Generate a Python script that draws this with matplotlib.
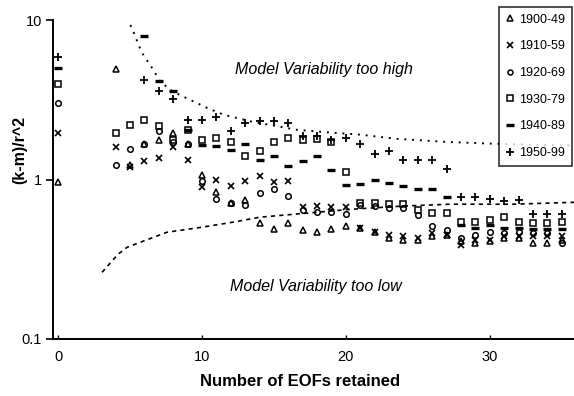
import numpy as np
import matplotlib
matplotlib.use("Agg")
import matplotlib.pyplot as plt

plt.rcParams['font.family'] = ['Liberation Sans', 'DejaVu Sans']

# EOFs retained (x positions of the columns of markers)
eofs = [0] + list(range(4, 36))

nan = np.nan
# ratio (k-m)/r^2 per period; one value per entry of `eofs`
p1900_49 = [0.97, 4.9, 1.24, 1.66, 1.78, 1.97, 1.66, 1.07, 0.84, 0.71, 0.74, 0.53, 0.49, 0.53,
            0.48, 0.47, 0.49, 0.51, 0.50, 0.47, 0.43, 0.42, 0.42, 0.44, 0.45, 0.41, 0.40, 0.41,
            0.43, 0.43, 0.40, 0.40, 0.42]
p1910_59 = [1.97, 1.6, 1.2, 1.3, 1.37, 1.6, 1.33, 0.9, 1.0, 0.91, 0.98, 1.05, 0.96, 0.98,
            0.67, 0.68, 0.67, 0.67, 0.50, 0.47, 0.45, 0.44, 0.43, 0.46, 0.45, 0.39, 0.42, 0.42,
            0.44, 0.44, 0.445, 0.445, 0.445]
p1920_69 = [3.02, 1.24, 1.56, 1.66, 2.0, 1.72, 1.68, 0.98, 0.75, 0.71, 0.69, 0.82, 0.87, 0.79,
            0.64, 0.63, 0.63, 0.61, 0.69, 0.68, 0.66, 0.66, 0.60, 0.51, 0.48, 0.43, 0.45, 0.47,
            0.46, 0.47, 0.46, 0.46, 0.40]
p1930_79 = [3.98, 1.97, 2.21, 2.37, 2.15, 1.78, 2.05, 1.78, 1.82, 1.71, 1.40, 1.51, 1.71, 1.82,
            1.78, 1.80, 1.71, 1.11, 0.71, 0.71, 0.70, 0.70, 0.64, 0.62, 0.62, 0.54, 0.54, 0.56,
            0.58, 0.54, 0.53, 0.53, 0.54]
p1940_89 = [5.0, nan, nan, 7.9, 4.15, 3.6, 2.05, 1.65, 1.63, 1.53, 1.66, 1.33, 1.40, 1.22,
            1.30, 1.40, 1.14, 0.93, 0.94, 0.99, 0.95, 0.91, 0.87, 0.87, 0.78, 0.52, 0.50, 0.52,
            0.50, 0.50, 0.49, 0.49, 0.49]
p1950_99 = [5.87, nan, nan, 4.2, 3.6, 3.2, 2.35, 2.35, 2.45, 2.0, 2.26, 2.34, 2.34, 2.26,
            1.88, 1.88, 1.78, 1.83, 1.68, 1.45, 1.5, 1.33, 1.33, 1.33, 1.17, 0.78, 0.78, 0.75,
            0.73, 0.74, 0.61, 0.61, 0.61]

# bounding curves
upper_x = [4.8, 5.2, 5.8, 6.6, 7.1, 8.0, 9.2, 10.4, 11.5, 13.5, 16.6, 18.9, 21.0, 23.5, 27.0, 30.0, 33.0, 36.0]
upper_y = [10.3, 8.6, 6.3, 4.9, 4.1, 3.55, 3.15, 2.8, 2.55, 2.3, 2.05, 1.97, 1.91, 1.8, 1.72, 1.68, 1.65, 1.63]
lower_x = [3.06, 4.17, 4.8, 5.9, 7.57, 9.86, 12.15, 14.0, 16.8, 20.3, 23.75, 27.2, 31.6, 36.0]
lower_y = [0.262, 0.34, 0.376, 0.41, 0.467, 0.50, 0.54, 0.58, 0.61, 0.65, 0.68, 0.70, 0.70, 0.72]

labels = ['1900-49', '1910-59', '1920-69', '1930-79', '1940-89', '1950-99']
series = [p1900_49, p1910_59, p1920_69, p1930_79, p1940_89, p1950_99]
styles = [
    dict(marker='^', markersize=4.8, markerfacecolor='none', markeredgewidth=1.1),
    dict(marker='x', markersize=4.8, markeredgewidth=1.2),
    dict(marker='o', markersize=4.0, markerfacecolor='none', markeredgewidth=1.1),
    dict(marker='s', markersize=4.2, markerfacecolor='none', markeredgewidth=1.1),
    dict(marker='_', markersize=6.0, markeredgewidth=2.4),
    dict(marker='+', markersize=6.0, markeredgewidth=1.3),
]

fig = plt.figure(figsize=(5.74, 3.96), dpi=100)
ax = fig.add_axes([53/574, 57/396, 1 - 53/574, (339-20)/396])

ax.plot(upper_x, upper_y, linestyle=(0, (1, 3)), color='black', linewidth=1.4)
ax.plot(lower_x, lower_y, linestyle=(0, (2.5, 2.5)), color='black', linewidth=1.2)

handles = []
for vals, lab, st in zip(series, labels, styles):
    h, = ax.plot(eofs, vals, linestyle='none', color='black', markeredgecolor='black', label=lab, **st)
    handles.append(h)

ax.set_yscale('log')
ax.set_ylim(0.1, 10)
ax.set_xlim(-0.35, 35.85)
ax.set_yticks([0.1, 1, 10])
ax.set_yticklabels(['0.1', '1', '10'])
ax.yaxis.set_minor_locator(matplotlib.ticker.NullLocator())
ax.set_xticks([0, 10, 20, 30])
ax.tick_params(axis='y', direction='out', length=5, width=1.2, labelsize=10.5, pad=3)
ax.tick_params(axis='x', direction='in', length=3, width=1.0, labelsize=10.5, pad=8)
for s in ['top', 'right']:
    ax.spines[s].set_visible(False)
ax.spines['left'].set_linewidth(1.4)
ax.spines['bottom'].set_linewidth(1.4)

ax.set_xlabel('Number of EOFs retained', fontsize=12, fontweight='bold')
ax.xaxis.set_label_coords((300 - 53) / (574 - 53), -(381 - 339) / (339 - 20))
ax.xaxis.label.set_va('center')
ax.set_ylabel('(k-m)/r^2', fontsize=11.5, fontweight='bold')
ax.yaxis.set_label_coords(-(53 - 20) / (574 - 53), (339 - 150) / (339 - 20))
ax.yaxis.label.set_va('center')

ax.text(18.5, 4.87, 'Model Variability too high', style='italic', fontsize=11.5,
        ha='center', va='center')
ax.text(17.9, 0.214, 'Model Variability too low', style='italic', fontsize=11.5,
        ha='center', va='center')

leg = ax.legend(handles=handles, loc='upper right',
                bbox_to_anchor=(1 - 2 / (574 - 53), 1.0 + 13 / (339 - 20)),
                fontsize=9, frameon=True, fancybox=False, edgecolor='black',
                handlelength=0.7, handletextpad=0.35, labelspacing=1.17, borderpad=0.55,
                borderaxespad=0.0, markerscale=0.9)
leg.get_frame().set_linewidth(1.2)

fig.savefig('out.png', dpi=100)
